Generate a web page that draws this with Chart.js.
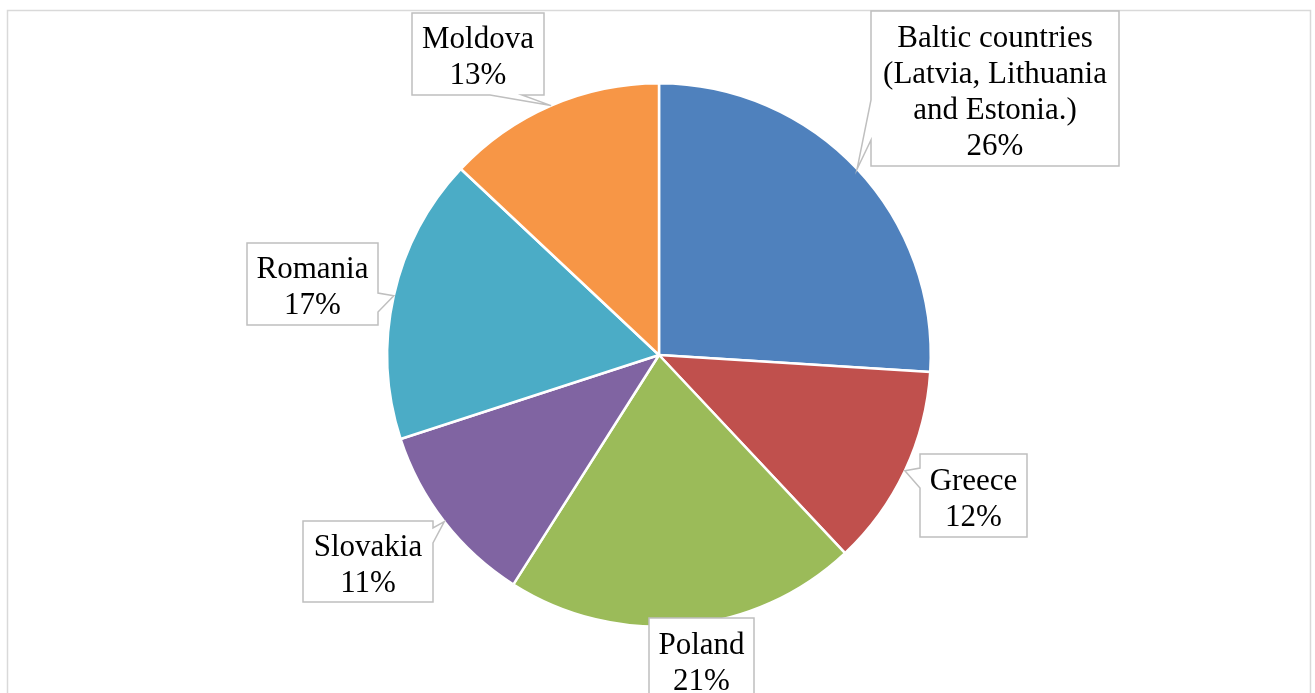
<!DOCTYPE html>
<html>
<head>
<meta charset="utf-8">
<script src="https://cdn.jsdelivr.net/npm/chart.js@4/dist/chart.umd.min.js"></script>
<style>
  html, body { margin: 0; padding: 0; background: #ffffff; }
  #wrap { width: 1315px; height: 693px; position: relative; }
  canvas { display: block; }
</style>
</head>
<body>
<div id="wrap"><canvas id="c" width="1315" height="693"></canvas></div>
<script>
// ---- data ----
const categories = ['Baltic countries (Latvia, Lithuania and Estonia.)', 'Greece', 'Poland', 'Slovakia', 'Romania', 'Moldova'];
const labelLines = [['Baltic countries', '(Latvia, Lithuania', 'and Estonia.)'], ['Greece'], ['Poland'], ['Slovakia'], ['Romania'], ['Moldova']];
const shares = [26, 12, 21, 11, 17, 13];
const sliceColors = ['#4F81BD', '#C0504D', '#9BBB59', '#8064A2', '#4BACC6', '#F79646'];

// ---- callout layout (box and pointer base along one side) ----
const callouts = [
  { x: 871, y: 11,  w: 248, h: 155, side: 'left',   a: 89, b: 129 },
  { x: 920, y: 454, w: 107, h: 83,  side: 'left',   a: 14, b: 34 },
  { x: 649, y: 618, w: 105, h: 100, side: 'none',   a: 0,  b: 0 },
  { x: 303, y: 521, w: 130, h: 81,  side: 'right',  a: 7,  b: 22 },
  { x: 247, y: 243, w: 131, h: 82,  side: 'right',  a: 50, b: 69 },
  { x: 412, y: 13,  w: 132, h: 82,  side: 'bottom', a: 78, b: 110 }
];

const frameBorder = {
  id: 'frameBorder',
  beforeDraw(chart) {
    const ctx = chart.ctx;
    ctx.save();
    ctx.strokeStyle = '#d9d9d9';
    ctx.lineWidth = 1.5;
    ctx.strokeRect(7.5, 10.5, 1303, 720);
    ctx.restore();
  }
};

const calloutLabels = {
  id: 'calloutLabels',
  afterDatasetsDraw(chart) {
    const ctx = chart.ctx;
    const meta = chart.getDatasetMeta(0);
    const data = chart.data.datasets[0].data;
    const total = data.reduce((s, v) => s + v, 0);
    meta.data.forEach((arc, i) => {
      const c = callouts[i];
      const mid = (arc.startAngle + arc.endAngle) / 2;
      const tx = arc.x + Math.cos(mid) * arc.outerRadius;
      const ty = arc.y + Math.sin(mid) * arc.outerRadius;
      const { x, y, w, h, a, b } = c;
      const pts = [[x, y]];
      if (c.side === 'top') pts.push([x + a, y], [tx, ty], [x + b, y]);
      pts.push([x + w, y]);
      if (c.side === 'right') pts.push([x + w, y + a], [tx, ty], [x + w, y + b]);
      pts.push([x + w, y + h]);
      if (c.side === 'bottom') pts.push([x + b, y + h], [tx, ty], [x + a, y + h]);
      pts.push([x, y + h]);
      if (c.side === 'left') pts.push([x, y + b], [tx, ty], [x, y + a]);
      ctx.save();
      ctx.beginPath();
      pts.forEach((p, k) => k === 0 ? ctx.moveTo(p[0], p[1]) : ctx.lineTo(p[0], p[1]));
      ctx.closePath();
      ctx.fillStyle = '#ffffff';
      ctx.fill();
      ctx.strokeStyle = '#bfbfbf';
      ctx.lineWidth = 1.5;
      ctx.lineJoin = 'miter';
      ctx.stroke();
      // text
      const lines = labelLines[i].concat([Math.round(data[i] / total * 100) + '%']);
      const lh = 36;
      ctx.fillStyle = '#000000';
      ctx.font = '31px "Liberation Serif", "Times New Roman", serif';
      ctx.textAlign = 'center';
      ctx.textBaseline = 'alphabetic';
      const cx = x + w / 2;
      const cy = (c.side === 'none') ? (y + 42) : (y + h / 2);
      const start = cy - (lines.length * lh) / 2;
      lines.forEach((t, k) => {
        ctx.fillText(t, cx, start + lh * k + 30);
      });
      ctx.restore();
    });
  }
};

new Chart(document.getElementById('c'), {
  type: 'pie',
  data: {
    labels: categories,
    datasets: [{
      data: shares,
      backgroundColor: sliceColors,
      borderColor: '#ffffff',
      borderWidth: 2.5,
      hoverBorderWidth: 2.5
    }]
  },
  options: {
    responsive: false,
    animation: false,
    devicePixelRatio: 1,
    layout: { padding: { top: 82, bottom: 65, left: 3, right: 0 } },
    plugins: {
      legend: { display: false },
      tooltip: { enabled: false }
    }
  },
  plugins: [frameBorder, calloutLabels]
});
</script>
</body>
</html>
